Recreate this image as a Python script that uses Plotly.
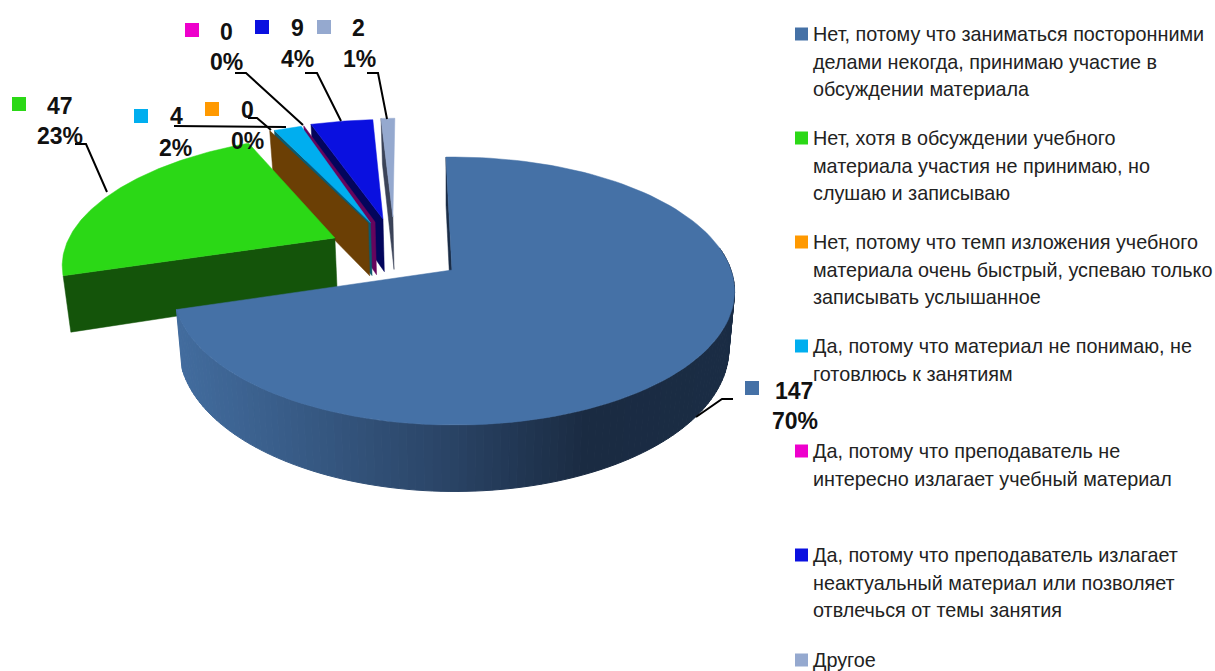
import math
import plotly.graph_objects as go

# ---- data
categories = [
    "Нет, потому что заниматься посторонними делами некогда, принимаю участие в обсуждении материала",
    "Нет, хотя в обсуждении учебного материала участия не принимаю, но слушаю и записываю",
    "Нет, потому что темп изложения учебного материала очень быстрый, успеваю только записывать услышанное",
    "Да, потому что материал не понимаю, не готовлюсь к занятиям",
    "Да, потому что преподаватель не интересно излагает учебный материал",
    "Да, потому что преподаватель излагает неактуальный материал или позволяет отвлечься от темы занятия",
    "Другое",
]
values = [147, 47, 0, 4, 0, 9, 2]
percent_labels = ["70%", "23%", "0%", "2%", "0%", "4%", "1%"]
legend_lines = [
    ["Нет, потому что заниматься посторонними", "делами некогда, принимаю участие в", "обсуждении материала"],
    ["Нет, хотя в обсуждении учебного", "материала участия не принимаю, но", "слушаю и записываю"],
    ["Нет, потому что темп изложения учебного", "материала очень быстрый, успеваю только", "записывать услышанное"],
    ["Да, потому что материал не понимаю, не", "готовлюсь к занятиям"],
    ["Да, потому что преподаватель не", "интересно излагает учебный материал"],
    ["Да, потому что преподаватель излагает", "неактуальный материал или позволяет", "отвлечься от темы занятия"],
    ["Другое"],
]

# ---- styles
top_colors = ["#4571A6", "#2BD816", "#FF9900", "#00AEEF", "#EE00CC", "#0A10E0", "#95A9CF"]
side_colors = ["#1A2D47", "#14540A", "#6B3F05", "#0B5A70", "#66055E", "#03055C", "#3B4358"]
# explosion offsets in disc units: rim (u, v) and apex (u, v)
rim_off = [(.0143, 0), (-.41, -.245), (-.335, -.381), (-.315, -.383), (-.305, -.39), (-.275, -.405), (-.24, -.42)]
apex_off = [(.007, 0), (-.426, -.255), (-.309, -.381), (-.30, -.383), (-.283, -.39), (-.254, -.415), (-.217, -.433)]
rim_scale = [.9857, 1, 1, 1, 1, 1, 1]
start_turn = [-1.8, 0, 0, 0, 0, 0, 0]
side_x = [177, 270, 450, 590, 735]
side_rgb = [(66, 108, 158), (58, 95, 140), (42, 68, 102), (26, 43, 66), (26, 44, 68)]
CX, CY, R, RY, K, D, XS = 450, 270, 281, 130.7, .157, 56, .98

def proj(u, v, low=False):
    s = 1 / (1 - K * v)
    X, Y = CX + R * u * s, CY + RY * v * s
    if low:
        X, Y = CX + (X - CX) * XS, Y + D * s
    return X, Y

def rim(i, deg, low=False):
    a = math.radians(deg)
    return proj(math.sin(a) * rim_scale[i] + rim_off[i][0], -math.cos(a) + rim_off[i][1], low)

def apex(i, low=False):
    return proj(apex_off[i][0], apex_off[i][1], low)

fig = go.Figure()

def poly(pts, color, lw=0):
    xs = [p[0] for p in pts] + [pts[0][0]]
    ys = [p[1] for p in pts] + [pts[0][1]]
    fig.add_trace(go.Scatter(x=xs, y=ys, mode="lines", fill="toself", fillcolor=color,
                             line=dict(color=color, width=lw), hoverinfo="skip", showlegend=False))

total = sum(values)
starts, a = [], 0.0
for v in values:
    starts.append(a)
    a += v / total * 360

def side_color(X):
    X = max(side_x[0], min(side_x[-1], X))
    for k in range(len(side_x) - 1):
        if X <= side_x[k + 1]:
            t = (X - side_x[k]) / (side_x[k + 1] - side_x[k])
            return "#%02X%02X%02X" % tuple(round(side_rgb[k][c] + (side_rgb[k + 1][c] - side_rgb[k][c]) * t) for c in range(3))

for i in range(len(values) - 1, -1, -1):
    a0, a1 = starts[i] + start_turn[i], starts[i] + values[i] / total * 360
    poly([rim(i, a0), apex(i), apex(i, True), rim(i, a0, True)], side_colors[i], .5)
    if i == 0:
        n = int((a1 - 80) / 1.5)
        for k in range(n):
            d0 = 80 + (a1 - 80) * k / n
            d1 = 80 + (a1 - 80) * (k + 1) / n
            poly([rim(0, d0), rim(0, d1), rim(0, d1, True), rim(0, d0, True)], side_color(rim(0, d0)[0]), 1)
    if values[i]:
        arc = [rim(i, a0 + (a1 - a0) * k / 120) for k in range(121)]
        poly([apex(i)] + arc, top_colors[i], .5)

# ---- leader lines
leaders = [
    [(733, 399), (722, 399), (696, 417)],
    [(75, 144), (86, 144), (107, 192)],
    [(248, 118), (257, 118), (271, 130)],
    [(174, 126), (286, 127)],
    [(235, 73), (246, 73), (303, 125)],
    [(305, 73), (317, 73), (341, 121)],
    [(367, 73), (378, 73), (387, 119)],
]
for L in leaders:
    fig.add_trace(go.Scatter(x=[p[0] for p in L], y=[p[1] for p in L], mode="lines",
                             line=dict(color="black", width=2), hoverinfo="skip", showlegend=False))

# ---- data labels: key square, value, percent
key_pos = [(752, 388), (19, 104), (212, 109), (141, 116), (192, 30), (262, 27), (324, 27)]
val_pos = [(794, 391), (60, 106), (247, 110), (176, 116), (226, 32), (297, 28), (358, 28)]
pct_pos = [(795, 421), (60, 136), (247, 141), (175, 148), (226, 62), (297, 59), (359, 59)]
label_font = dict(family="Liberation Sans", size=23, color="#111111", weight="bold")
annos = []
for i in range(len(values)):
    annos.append(dict(x=val_pos[i][0], y=val_pos[i][1], text=str(values[i]), font=label_font))
    annos.append(dict(x=pct_pos[i][0], y=pct_pos[i][1], text=percent_labels[i], font=label_font))

# ---- legend
legend_y = [34, 138, 242, 346, 451, 555, 660]
legend_font = dict(family="Liberation Sans", size=19.8, color="#222222")
for i, lines in enumerate(legend_lines):
    for j, line in enumerate(lines):
        annos.append(dict(x=811, y=legend_y[i] + j * 27.5, text=line, font=legend_font, xanchor="left"))

fig.add_trace(go.Scatter(x=[p[0] for p in key_pos], y=[p[1] for p in key_pos], mode="markers",
                         marker=dict(symbol="square", size=14, color=top_colors, line=dict(width=0)),
                         hoverinfo="skip", showlegend=False))
fig.add_trace(go.Scatter(x=[801.5] * len(legend_y), y=legend_y, mode="markers",
                         marker=dict(symbol="square", size=13, color=top_colors, line=dict(width=0)),
                         text=categories, hoverinfo="text", showlegend=False))

for a_ in annos:
    a_.update(showarrow=False, xref="x", yref="y")
    a_.setdefault("xanchor", "center")
    a_["yanchor"] = "middle"

fig.update_layout(width=1215, height=671, margin=dict(l=0, r=0, t=0, b=0),
                  paper_bgcolor="white", plot_bgcolor="white", annotations=annos, showlegend=False,
                  xaxis=dict(range=[0, 1215], visible=False, fixedrange=True),
                  yaxis=dict(range=[671, 0], visible=False, fixedrange=True))
fig.write_html("out.html", config={"displayModeBar": False},
               post_script="document.body.style.margin='0';document.documentElement.style.overflow='hidden';")
